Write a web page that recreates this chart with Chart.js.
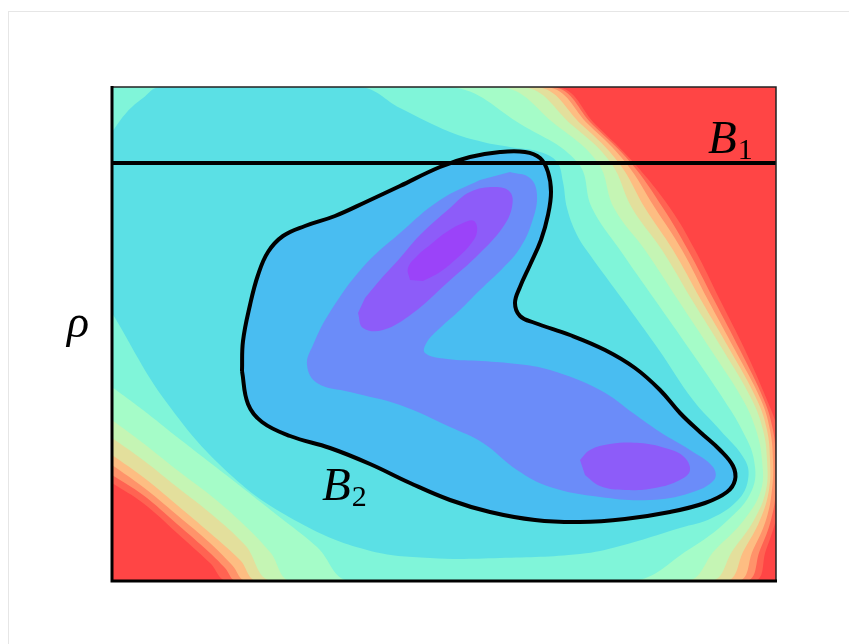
<!DOCTYPE html>
<html>
<head>
<meta charset="utf-8">
<script src="https://cdn.jsdelivr.net/npm/chart.js@4.4.1/dist/chart.umd.min.js"></script>
<style>
  html, body { margin: 0; padding: 0; background: #fff; }
  #wrap { position: relative; width: 849px; height: 644px; }
  #frame { position: absolute; left: 8px; top: 11px; right: 0; bottom: 0;
           border-top: 1px solid #e6e6e6; border-left: 1px solid #e6e6e6; }
  canvas { position: absolute; left: 0; top: 0; }
</style>
</head>
<body>
<div id="wrap"><div id="frame"></div><canvas id="chart" width="849" height="644"></canvas></div>
<script>
// field extents (grid units)
const X_MAX = 664;
const Y_MAX = 494;

const edgeRows = [494, 456, 418, 373, 331, 281, 231, 181, 151, 121, 91, 61, 31, 0];

// right-hand contour edges: x position at each of edgeRows (top -> bottom)
const edgeGreen  = [338, 410, 466, 480, 508, 543, 578, 612, 630, 642, 640, 616, 576, 520];
const edgePale   = [388, 444, 486, 502, 533, 566, 599, 631, 644, 650, 649, 632, 603, 574];
const edgeKhaki  = [410, 460, 499, 520, 550, 580, 611, 640, 651, 655, 654, 642, 621, 598];
const edgeLtOr   = [424, 470, 507, 533, 561, 589, 618, 645, 655, 658, 657, 648, 632, 613];
const edgeOrange = [434, 477, 514, 543, 570, 596, 623, 649, 658, 661, 660, 654, 641, 625];
const edgeSalmon = [440, 481, 519, 551, 576, 602, 628, 652, 661, 664, 664, 659, 648, 633];
const edgeRed    = [444, 484, 522, 558, 583, 608, 633, 655, 666, 671, 671, 664, 654, 641];

// contour edges in the lower left corner, bottom edge -> left edge
const cornerGreen  = [[238,0],[205,34],[165,66],[118,103],[65,144],[31,171],[0,194]];
const cornerPale   = [[180,0],[158,29],[128,60],[98,86],[65,111],[31,138],[0,161]];
const cornerKhaki  = [[161,0],[133,36],[98,68],[65,94],[31,121],[0,143]];
const cornerLtOr   = [[146,0],[128,21],[98,48],[65,76],[31,104],[0,126]];
const cornerOrange = [[135,0],[120,16],[98,38],[65,66],[31,94],[0,116]];
const cornerSalmon = [[125,0],[113,13],[98,28],[65,57],[31,86],[0,106]];
const cornerRed    = [[116,0],[98,18],[65,48],[31,78],[0,98]];

// closed regions
const cyanRegion = [[0,449],[15,469],[31,483],[48,494],[248,494],[288,473],[338,449],[371,439],[398,434],[428,429],[445,419],[451,399],[455,373],[465,346],[478,326],[511,281],[547,231],[581,181],[608,151],[633,121],[636,101],[626,81],[600,63],[568,53],[508,35],[468,27],[388,23],[318,23],[255,31],[188,58],[121,104],[55,178],[0,268]];
const curveB2 = [[130,210],[131,240],[138,276],[146,306],[156,329],[171,345],[193,355],[223,365],[256,380],[288,395],[328,414],[358,424],[388,429],[413,429],[428,423],[436,409],[439,389],[436,366],[429,341],[418,316],[408,294],[403,278],[408,265],[423,258],[458,246],[493,231],[523,213],[548,191],[568,168],[588,149],[608,131],[621,115],[623,101],[615,89],[593,78],[558,69],[513,62],[468,59],[423,61],[378,69],[338,81],[298,98],[258,117],[218,133],[178,145],[150,159],[136,177],[130,210]];
const violetRegion = [[398,409],[418,403],[425,386],[420,359],[408,333],[391,313],[368,291],[348,271],[328,253],[315,239],[313,228],[335,222],[370,220],[405,217],[438,211],[488,191],[521,168],[548,149],[578,131],[601,114],[602,101],[578,88],[538,81],[488,84],[438,94],[405,111],[371,138],[338,154],[288,176],[238,189],[205,198],[195,216],[201,236],[218,269],[251,314],[288,348],[328,381],[368,401]];
const purpleUpper = [[246,268],[251,253],[271,251],[301,268],[335,298],[368,328],[391,354],[400,374],[398,389],[383,394],[358,389],[338,373],[308,346],[288,323],[268,301],[253,283]];
const purpleCore  = [[298,301],[296,313],[306,326],[318,336],[333,348],[351,358],[362,360],[365,349],[358,336],[343,321],[328,309],[311,300]];
const purpleLower = [[468,121],[478,131],[498,137],[528,138],[553,133],[571,125],[578,111],[568,101],[543,93],[513,91],[488,95],[473,106]];

const levelB1 = 418;

const curveLabels = [
  { text: "B", sub: "1", x: 596, y: 428 },
  { text: "B", sub: "2", x: 210, y: 81 }
];
const axisLabel = "ρ";
const axisLabelAt = 244;

const palette = {
  red: "#ff4545", salmon: "#ff6352", orange: "#ff936a", ltOrange: "#fdbd82",
  khaki: "#e3df9c", pale: "#c5f5b4", green: "#a5fcc8", mint: "#80f5d9",
  cyan: "#5be0e5", lightBlue: "#49bdf1", violet: "#6b8cf9", purple: "#8d5cf9", deep: "#9b43f9"
};

// region below a contour: top-left corner, right edge, bottom-left corner edge
const band = (edge, corner) => [[0, Y_MAX], ...edge.map((x, i) => [x, edgeRows[i]]), ...corner];
const toXY = pts => pts.map(([x, y]) => ({ x, y }));

const layers = [
  { pts: [[0,0],[X_MAX,0],[X_MAX,Y_MAX],[0,Y_MAX]], color: palette.red, tension: 0 },
  { pts: band(edgeRed, cornerRed), color: palette.salmon },
  { pts: band(edgeSalmon, cornerSalmon), color: palette.orange },
  { pts: band(edgeOrange, cornerOrange), color: palette.ltOrange },
  { pts: band(edgeLtOr, cornerLtOr), color: palette.khaki },
  { pts: band(edgeKhaki, cornerKhaki), color: palette.pale },
  { pts: band(edgePale, cornerPale), color: palette.green },
  { pts: band(edgeGreen, cornerGreen), color: palette.mint },
  { pts: cyanRegion, color: palette.cyan },
  { pts: curveB2, color: palette.lightBlue, stroke: "#000", width: 4 },
  { pts: violetRegion, color: palette.violet },
  { pts: purpleUpper, color: palette.purple },
  { pts: purpleCore, color: palette.deep },
  { pts: purpleLower, color: palette.purple }
];

const datasets = layers.map((l, i) => ({
  data: toXY(l.pts),
  fill: "shape",
  backgroundColor: l.color,
  borderColor: l.stroke || "transparent",
  borderWidth: l.width || 0,
  pointRadius: 0,
  tension: l.tension ?? 0.4,
  order: 100 - i
}));

datasets.push({
  data: toXY([[0, levelB1], [X_MAX, levelB1]]),
  fill: false,
  borderColor: "#000",
  borderWidth: 4,
  pointRadius: 0,
  tension: 0,
  order: 0
});

const decorations = {
  id: "decorations",
  afterDatasetsDraw(chart) {
    const { ctx, chartArea: a, scales: { x, y } } = chart;
    ctx.save();
    ctx.fillStyle = "#000";
    ctx.textBaseline = "alphabetic";
    curveLabels.forEach(l => {
      const px = x.getPixelForValue(l.x);
      const py = y.getPixelForValue(l.y);
      ctx.font = 'italic 47px "Liberation Serif"';
      ctx.fillText(l.text, px, py);
      const w = ctx.measureText(l.text).width;
      ctx.font = '30px "Liberation Serif"';
      ctx.fillText(l.sub, px + w + 1, py + 6);
    });
    ctx.font = 'italic 46px "Liberation Serif"';
    ctx.textAlign = "center";
    ctx.fillText(axisLabel, a.left - 34, y.getPixelForValue(axisLabelAt));

    // spines
    ctx.strokeStyle = "#222";
    ctx.lineWidth = 1.5;
    ctx.beginPath();
    ctx.moveTo(a.left, a.top);
    ctx.lineTo(a.right, a.top);
    ctx.lineTo(a.right, a.bottom);
    ctx.stroke();
    ctx.strokeStyle = "#000";
    ctx.lineWidth = 3;
    ctx.beginPath();
    ctx.moveTo(a.left, a.top - 1);
    ctx.lineTo(a.left, a.bottom);
    ctx.lineTo(a.right + 1, a.bottom);
    ctx.stroke();
    ctx.restore();
  }
};

new Chart(document.getElementById("chart"), {
  type: "line",
  data: { datasets },
  options: {
    responsive: false,
    animation: false,
    events: [],
    layout: { padding: { left: 112, right: 73, top: 87, bottom: 63 } },
    scales: {
      x: { type: "linear", min: 0, max: X_MAX, display: false },
      y: { type: "linear", min: 0, max: Y_MAX, display: false }
    },
    plugins: { legend: { display: false }, tooltip: { enabled: false } }
  },
  plugins: [decorations]
});
</script>
</body>
</html>
